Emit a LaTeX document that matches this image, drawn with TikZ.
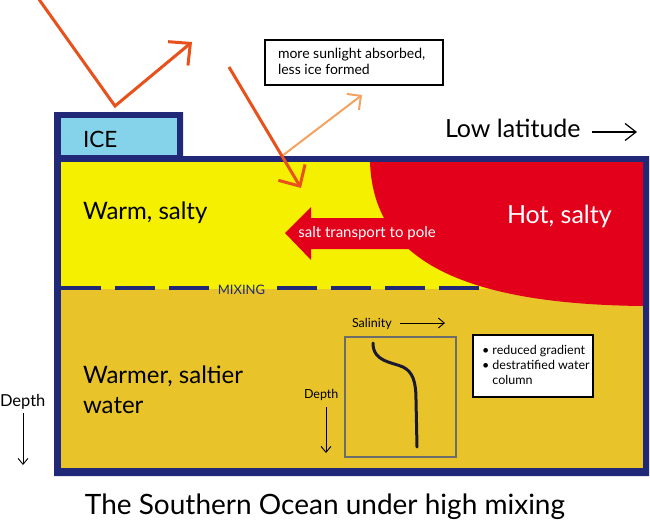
\documentclass[tikz,border=0pt]{standalone}
\usepackage{fontspec}
\setmainfont{Lato}
\usetikzlibrary{arrows.meta}
\definecolor{navy}{RGB}{33,40,120}
\definecolor{seaYellow}{RGB}{244,240,0}
\definecolor{seaGold}{RGB}{232,196,42}
\definecolor{seaRed}{RGB}{227,0,27}
\definecolor{iceBlue}{RGB}{133,211,234}
\definecolor{sunOrange}{RGB}{232,80,28}
\definecolor{sunLight}{RGB}{246,162,94}
\definecolor{profileInk}{RGB}{25,25,50}
\begin{document}
\begin{tikzpicture}[x=1pt,y=-1pt,
  every node/.style={inner sep=0pt,outer sep=0pt},
  sunray/.style={draw=sunOrange,line width=3pt,-{Straight Barb[length=16pt,width=31pt,line width=3pt]}},
  reflray/.style={draw=sunLight,line width=2pt,-{Straight Barb[length=10pt,width=20pt,line width=2pt]}},
  thinarrow/.style={draw=black,line width=0.9pt,-{Straight Barb[length=6pt,width=10pt,line width=0.9pt]}},
  mixline/.style={draw=navy,line width=3.5pt,dash pattern=on 40pt off 14pt},
  infobox/.style={draw=black,line width=2.5pt,fill=white},
  biglabel/.style={anchor=base west,font=\fontsize{24}{30}\selectfont}
]
\useasboundingbox (0,0) rectangle (650,525);

% frame
\fill[navy] (54,112) -- (183,112) -- (183,156) -- (649,156) -- (649,476) -- (54,476) -- cycle;
\fill[iceBlue] (61,118) rectangle (177,155);
\fill[seaYellow] (61,162) rectangle (643,289);
\fill[seaGold] (61,289) rectangle (643,468);

% mixing line
\node[font=\fontsize{13}{15}\selectfont,text=navy] (mixing) at (241.5,289.5) {MIXING};
\coordinate (mixA) at (61,288);
\coordinate (mixB) at (209,288);
\coordinate (mixC) at (277,288);
\coordinate (mixD) at (490,288);
\draw[mixline] (mixA) -- (mixB);
\draw[mixline] (mixC) -- (mixD);

% hot salty water
\fill[seaRed] (370,162) .. controls (373,248) and (440,304) .. (643,306) -- (643,162) -- cycle;
\fill[seaRed] (285,233) -- (311,207) -- (311,218) -- (440,218) -- (440,249) -- (311,249) -- (311,260) -- cycle;
\node[text=white,font=\fontsize{15}{17}\selectfont] (salt) at (367,233) {salt transport to pole};

% labels
\node[anchor=base west,font=\fontsize{22.5}{28}\selectfont] (ice) at (83,147) {ICE};
\node[anchor=base west,font=\fontsize{25}{30}\selectfont] (lowlat) at (445,137) {Low latitude};
\coordinate (llA) at (592,132);
\coordinate (llB) at (637,132);
\draw[draw=black,line width=1.2pt,-{Straight Barb[length=11pt,width=17pt,line width=1.2pt]}] (llA) -- (llB);
\node[biglabel] (warm) at (83,219) {Warm, salty};
\node[biglabel,text=white,font=\fontsize{25}{30}\selectfont] (hot) at (507,223) {Hot, salty};
\node[biglabel] (warmer) at (83,383) {Warmer, saltier};
\node[biglabel] (water) at (83,413) {water};

% sun rays
\coordinate (sunA) at (38,-2);
\coordinate (sunB) at (115,106);
\coordinate (sunC) at (192,42);
\draw[sunray] (sunA) -- (sunB) -- (sunC);
\coordinate (sunD) at (229,67);
\coordinate (sunE) at (301,188);
\coordinate (surf) at (282,156);
\coordinate (sunF) at (362,95);
\draw[reflray] (surf) -- (sunF);
\draw[sunray] (sunD) -- (sunE);

% info box
\node[infobox,minimum width=178pt,minimum height=45pt] (sunbox) at (354,62.5) {};
\node[anchor=base west,font=\fontsize{14}{16}\selectfont] (sunA1) at (278,58) {more sunlight absorbed,};
\node[anchor=base west,font=\fontsize{14}{16}\selectfont] (sunA2) at (278,74) {less ice formed};

% salinity profile
\node[draw=gray!85!black,line width=1.3pt,minimum width=111pt,minimum height=120pt] (profile) at (400.5,397) {};
\draw[profileInk,line width=3pt,line cap=round] (373,343) .. controls (373,362) and (392,362) .. (403,367) .. controls (413,372) and (416,382) .. (416,400) -- (417,447);
\node[anchor=base west,font=\fontsize{12.5}{14}\selectfont] (salinity) at (352,327) {Salinity};
\coordinate (salA) at (400,323);
\coordinate (salB) at (445,323);
\draw[thinarrow] (salA) -- (salB);
\node[anchor=base west,font=\fontsize{12.5}{14}\selectfont] (depthIn) at (304,398) {Depth};
\coordinate (depA) at (326,407);
\coordinate (depB) at (326,453);
\draw[thinarrow] (depA) -- (depB);

\node[infobox,minimum width=120pt,minimum height=62pt] (bullets) at (533,366) {};
\node[anchor=base west,font=\fontsize{12.5}{15}\selectfont] (b1) at (482,354) {\textbullet\ reduced gradient};
\node[anchor=base west,font=\fontsize{12.5}{15}\selectfont] (b2) at (482,369) {\textbullet\ destratified water};
\node[anchor=base west,font=\fontsize{12.5}{15}\selectfont] (b3) at (482,384) {\hphantom{\textbullet\ }column};

% depth axis
\node[anchor=base west,font=\fontsize{16.5}{18}\selectfont] (depthOut) at (0,406) {Depth};
\coordinate (dA) at (23,413);
\coordinate (dB) at (23,465);
\draw[thinarrow] (dA) -- (dB);

% title
\node[font=\fontsize{28}{32}\selectfont] (title) at (325,507) {The Southern Ocean under high mixing};
\end{tikzpicture}
\end{document}
